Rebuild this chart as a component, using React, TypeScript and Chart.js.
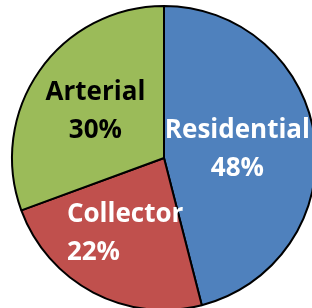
import React, { useEffect, useRef } from "react";
import { Chart, registerables } from "chart.js";

Chart.register(...registerables);

// ---- data ----
const categories = ["Residential", "Collector", "Arterial"];
// slice shares as drawn (angles measured on the reference)
const shares = [46, 23.4, 30.6];
// percentage text printed on the slices
const percentLabels = ["48%", "22%", "30%"];

// ---- styles ----
const sliceColors = ["#4F81BD", "#C0504D", "#9BBB59"];
const labelColors = ["#FFFFFF", "#FFFFFF", "#000000"];
const labelAlign = ["center", "left", "center"];
const VIEW_W = 312;
const VIEW_H = 308;
const CANVAS_W = 328;
const CANVAS_H = 316;
const FONT_SIZE = 26;
const LINE_GAP = 38;
const LABEL_RADIUS_FRACTION = 0.55;

const sliceLabelPlugin = {
  id: "sliceLabels",
  afterDatasetsDraw(chart: any) {
    const ctx = chart.ctx as CanvasRenderingContext2D;
    const meta = chart.getDatasetMeta(0);
    ctx.save();
    ctx.font = `bold ${FONT_SIZE}px "Open Sans", sans-serif`;
    ctx.textBaseline = "alphabetic";
    const cap = FONT_SIZE * 0.714;
    meta.data.forEach((arc: any, i: number) => {
      const { x, y, startAngle, endAngle, outerRadius } = arc.getProps(
        ["x", "y", "startAngle", "endAngle", "outerRadius"],
        true
      );
      const mid = (startAngle + endAngle) / 2;
      const r = outerRadius * LABEL_RADIUS_FRACTION;
      let cx = x + Math.cos(mid) * r;
      const cy = y + Math.sin(mid) * r;
      const lines = [categories[i], percentLabels[i]];
      const widths = lines.map((l) => ctx.measureText(l).width);
      const maxW = Math.max(...widths);
      // keep the label inside the visible frame
      if (cx + maxW / 2 > VIEW_W - 2) cx = VIEW_W - 2 - maxW / 2;
      if (cx - maxW / 2 < 2) cx = 2 + maxW / 2;
      const b1 = cy + (cap - LINE_GAP) / 2;
      ctx.fillStyle = labelColors[i];
      lines.forEach((line, j) => {
        const by = b1 + j * LINE_GAP;
        if (labelAlign[i] === "left") {
          ctx.textAlign = "left";
          ctx.fillText(line, cx - maxW / 2, by);
        } else {
          ctx.textAlign = "center";
          ctx.fillText(line, cx, by);
        }
      });
    });
    ctx.restore();
  },
};

export default function App() {
  const canvasRef = useRef<HTMLCanvasElement | null>(null);

  useEffect(() => {
    if (!canvasRef.current) return;
    const chart = new Chart(canvasRef.current, {
      type: "pie",
      data: {
        labels: categories,
        datasets: [
          {
            data: shares,
            backgroundColor: sliceColors,
            borderColor: "#000000",
            borderWidth: 2,
          },
        ],
      },
      options: {
        responsive: false,
        animation: false,
        layout: { padding: 5 },
        plugins: {
          legend: { display: false },
          tooltip: { enabled: false },
        },
      },
      plugins: [sliceLabelPlugin],
    });
    return () => chart.destroy();
  }, []);

  return (
    <div
      style={{
        position: "fixed",
        left: 0,
        top: 0,
        width: VIEW_W,
        height: VIEW_H,
        overflow: "hidden",
        background: "#FFFFFF",
      }}
    >
      <canvas
        ref={canvasRef}
        width={CANVAS_W}
        height={CANVAS_H}
        style={{ display: "block", width: CANVAS_W, height: CANVAS_H }}
      />
    </div>
  );
}
